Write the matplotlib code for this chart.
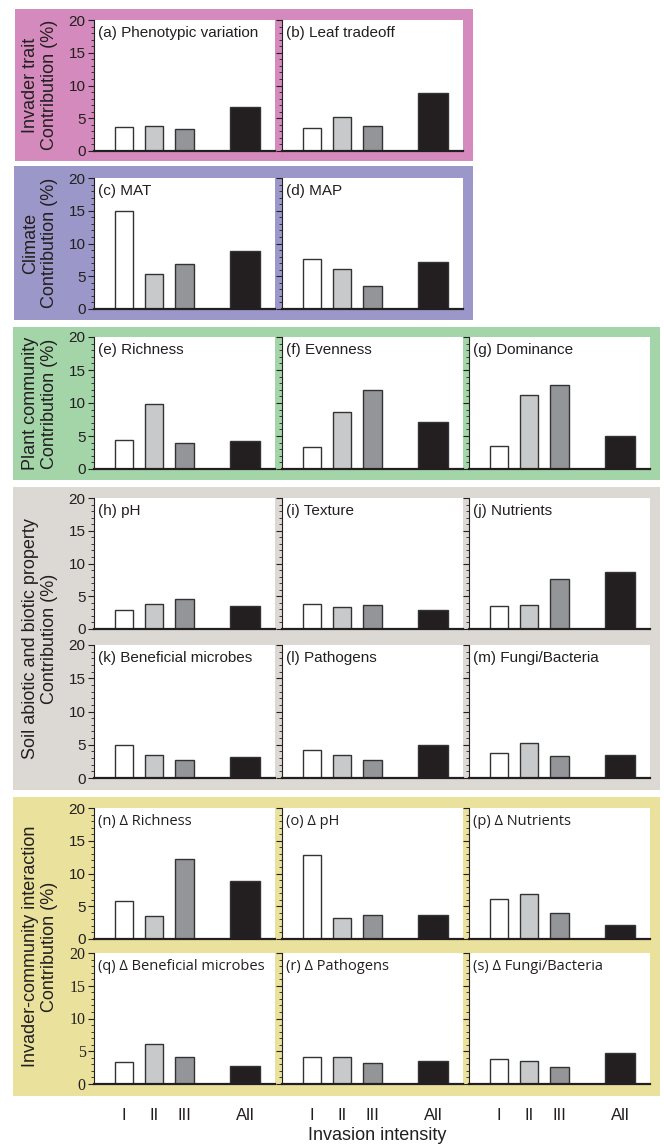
import numpy as np
import matplotlib
matplotlib.use("Agg")
import matplotlib.pyplot as plt
from matplotlib.patches import Rectangle
from matplotlib.ticker import MultipleLocator

plt.rcParams['font.family'] = ['Liberation Sans', 'DejaVu Sans']

# data (contribution %)
intensity = ['I', 'II', 'III', 'All']
y_ticks = [0, 5, 10, 15, 20]

trait_titles = ['(a) Phenotypic variation', '(b) Leaf tradeoff']
trait_vals = [[3.65, 3.8, 3.35, 6.7], [3.55, 5.25, 3.8, 8.8]]

climate_titles = ['(c) MAT', '(d) MAP']
climate_vals = [[14.9, 5.4, 6.9, 8.85], [7.7, 6.1, 3.5, 7.15]]

community_titles = ['(e) Richness', '(f) Evenness', '(g) Dominance']
community_vals = [[4.4, 9.85, 4.0, 4.2], [3.3, 8.6, 11.9, 7.1], [3.45, 11.2, 12.7, 5.05]]

soil_titles = ['(h) pH', '(i) Texture', '(j) Nutrients',
               '(k) Beneficial microbes', '(l) Pathogens', '(m) Fungi/Bacteria']
soil_vals = [[2.95, 3.85, 4.6, 3.55], [3.75, 3.3, 3.7, 2.95], [3.55, 3.6, 7.65, 8.75],
             [4.95, 3.4, 2.75, 3.2], [4.2, 3.4, 2.7, 5.0], [3.7, 5.2, 3.3, 3.5]]

inter_titles = ['(n) Δ Richness', '(o) Δ pH', '(p) Δ Nutrients',
                '(q) Δ Beneficial microbes', '(r) Δ Pathogens', '(s) Δ Fungi/Bacteria']
inter_vals = [[5.85, 3.45, 12.15, 8.8], [12.8, 3.15, 3.6, 3.65], [6.15, 6.85, 3.9, 2.15],
              [3.4, 6.1, 4.05, 2.8], [4.05, 4.15, 3.15, 3.5], [3.8, 3.45, 2.6, 4.75]]

W, H = 664, 1144
fig = plt.figure(figsize=(W / 100, H / 100), dpi=100)

bar_colors = ['#ffffff', '#c8c9cb', '#949598', '#231f20']
bar_x = [1, 2, 3, 5]
bar_w = [0.6, 0.6, 0.6, 1.0]
dark = '#231f20'

col_left = [94, 282, 469]
col_w = 181


def px_rect(x0, y0, x1, y1):
    return [x0 / W, 1 - y1 / H, (x1 - x0) / W, (y1 - y0) / H]


def add_box(x0, y0, x1, y1, color, label):
    fig.patches.append(Rectangle((x0 / W, 1 - y1 / H), (x1 - x0) / W, (y1 - y0) / H,
                                 transform=fig.transFigure, facecolor=color,
                                 edgecolor='none', zorder=-1))
    fig.text(40 / W, 1 - (y0 + y1) / 2 / H, label, rotation=90, ha='center', va='center',
             multialignment='center', fontsize=13, color=dark, linespacing=1.1)


def panel(col, top, bottom, title, vals, show_y, bottom_row=False,
          title_font=None, title_size=11, tick_font=None):
    ax = fig.add_axes(px_rect(col_left[col], top, col_left[col] + col_w, bottom))
    ax.set_facecolor('white')
    ax.bar(bar_x, vals, width=bar_w, color=bar_colors, edgecolor='#333333',
           linewidth=1.0, zorder=2)
    ax.set_xlim(0, 6)
    ax.set_ylim(0, 20)
    for s in ['top', 'right']:
        ax.spines[s].set_visible(False)
    ax.spines['bottom'].set_linewidth(1.6)
    ax.spines['bottom'].set_color(dark)
    ax.spines['left'].set_linewidth(0.8)
    ax.spines['left'].set_color(dark)
    ax.set_yticks(y_ticks)
    ax.yaxis.set_minor_locator(MultipleLocator(1))
    ax.tick_params(axis='y', which='major', length=4, width=0.8, color=dark,
                   labelsize=11, labelcolor=dark, pad=2)
    ax.tick_params(axis='y', which='minor', length=2, width=0.6, color=dark)
    if not show_y:
        ax.set_yticklabels([])
    elif tick_font:
        ax.set_yticklabels([str(t) for t in y_ticks], family=tick_font, fontsize=11.5)
    if bottom_row:
        ax.set_xticks(bar_x)
        ax.set_xticklabels(intensity)
        ax.tick_params(axis='x', length=0, labelsize=12, labelcolor=dark, pad=17)
    else:
        ax.set_xticks([])
    kw = {}
    if title_font:
        kw['family'] = title_font
    ax.text(0.02, 0.955, title, transform=ax.transAxes, ha='left', va='top',
            fontsize=title_size, color=dark, **kw)
    return ax


# invader trait
add_box(15, 9, 473, 161, '#d48abc', 'Invader trait\nContribution (%)')
for i in range(2):
    panel(i, 20, 151, trait_titles[i], trait_vals[i], i == 0)

# climate
add_box(14, 166, 473, 320, '#9b97c9', 'Climate\nContribution (%)')
for i in range(2):
    panel(i, 178, 309, climate_titles[i], climate_vals[i], i == 0)

# plant community
add_box(13, 327, 660, 480, '#a3d5a9', 'Plant community\nContribution (%)')
for i in range(3):
    panel(i, 337, 469, community_titles[i], community_vals[i], i == 0)

# soil
add_box(13, 487, 660, 790, '#dcd9d5', 'Soil abiotic and biotic property\nContribution (%)')
soil_rows = [(498, 629), (645, 778)]
for k in range(6):
    r, c = divmod(k, 3)
    panel(c, soil_rows[r][0], soil_rows[r][1], soil_titles[k], soil_vals[k], c == 0)

# invader-community interaction
add_box(13, 797, 660, 1096, '#e9e19c', 'Invader-community interaction\nContribution (%)')
inter_rows = [(808, 939), (953, 1084)]
for k in range(6):
    r, c = divmod(k, 3)
    panel(c, inter_rows[r][0], inter_rows[r][1], inter_titles[k], inter_vals[k], c == 0,
          bottom_row=(r == 1), title_font=['Open Sans', 'DejaVu Sans'], title_size=10.5,
          tick_font=['Liberation Serif', 'DejaVu Serif'] if r == 1 else None)

fig.text(377 / W, 1 - 1135 / H, 'Invasion intensity', ha='center', va='center',
         fontsize=13, color=dark)

fig.savefig('out.png', dpi=100)
